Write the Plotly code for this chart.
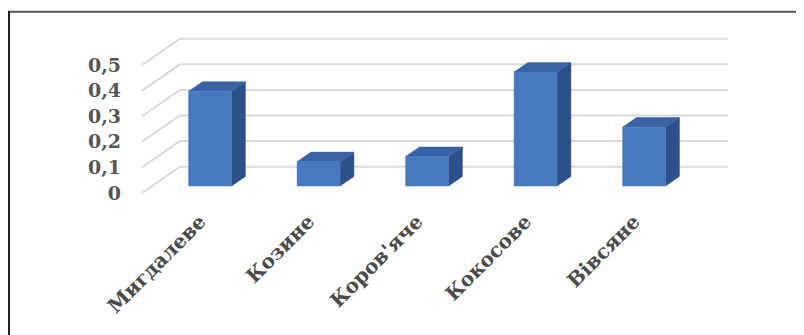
import plotly.graph_objects as go

categories = ["Мигдалеве", "Козине", "Коров'яче", "Кокосове", "Вівсяне"]
values = [0.37, 0.095, 0.115, 0.445, 0.23]
tick_values = [0, 0.1, 0.2, 0.3, 0.4, 0.5]
tick_labels = ["0", "0,1", "0,2", "0,3", "0,4", "0,5"]

# oblique projection of the Excel-like 3D column chart
DX = 0.3502   # x-shift (category units) per unit depth
DV = 0.1027   # value shift per unit depth
F0, F1 = 0.266, 0.63   # bar front / back depth
HALF = 0.198           # half bar width
XA, XB = -0.535, 4.516 # wall extents

FRONT = "#4679BE"
TOP = "#3863A4"
SIDE = "#2C5089"
GRID = "#D9D9D9"

W, H = 796, 327          # page body has an 8px margin
L, R, T, B = 122, 64, 12, 130
PW, PH = W - L - R, H - T - B


def proj(x, f, v):
    return x + DX * f, v + DV * f


fig = go.Figure()

# walls: side-wall diagonals and back-wall gridlines
for tv in tick_values:
    xs, ys = [], []
    for (x, f) in [(XA, 0), (XA, 1), (XB, 1)]:
        px, py = proj(x, f, tv)
        xs.append(px)
        ys.append(py)
    fig.add_trace(go.Scatter(x=xs, y=ys, mode="lines",
                             line=dict(color=GRID, width=2),
                             hoverinfo="skip", showlegend=False))


def face(pts, color):
    xs, ys = [], []
    for (x, f, v) in pts:
        px, py = proj(x, f, v)
        xs.append(px)
        ys.append(py)
    xs.append(xs[0])
    ys.append(ys[0])
    fig.add_trace(go.Scatter(x=xs, y=ys, mode="lines", fill="toself",
                             fillcolor=color, line=dict(color=color, width=0.5),
                             hoverinfo="skip", showlegend=False))


for i, v in enumerate(values):
    l, r = i - HALF, i + HALF
    face([(r, F0, 0), (r, F1, 0), (r, F1, v), (r, F0, v)], SIDE)
    face([(l, F0, v), (r, F0, v), (r, F1, v), (l, F1, v)], TOP)
    face([(l, F0, 0), (r, F0, 0), (r, F0, v), (l, F0, v)], FRONT)

font_family = "DejaVu Serif"
fig.update_layout(
    width=W, height=H,
    margin=dict(l=L, r=R, t=T, b=B),
    paper_bgcolor="white", plot_bgcolor="white",
    separators=", ",
    showlegend=False,
    xaxis=dict(range=[-0.6452, 4.977], tickmode="array",
               tickvals=list(range(len(categories))), ticktext=categories,
               tickangle=-45, showgrid=False, zeroline=False, showline=False,
               ticklabelstandoff=0,
               tickfont=dict(family=font_family, size=20, color="#4a4a4a", weight="bold")),
    yaxis=dict(range=[-0.046875, 0.67578], tickmode="array",
               tickvals=tick_values, ticktext=tick_labels,
               showgrid=False, zeroline=False, showline=False,
               ticklabelstandoff=8,
               tickfont=dict(family=font_family, size=19, color="#555555", weight="bold")),
    shapes=[
        dict(type="line", xref="paper", yref="paper",
             x0=(0 - L) / PW, x1=(W - L) / PW,
             y0=(T + PH - 3.7) / PH, y1=(T + PH - 3.7) / PH,
             line=dict(color="#555555", width=2)),
        dict(type="line", xref="paper", yref="paper",
             x0=(1 - L) / PW, x1=(1 - L) / PW,
             y0=(T + PH - 3) / PH, y1=(T + PH - H) / PH,
             line=dict(color="#222222", width=2)),
    ],
)

fig.write_html("out.html")
